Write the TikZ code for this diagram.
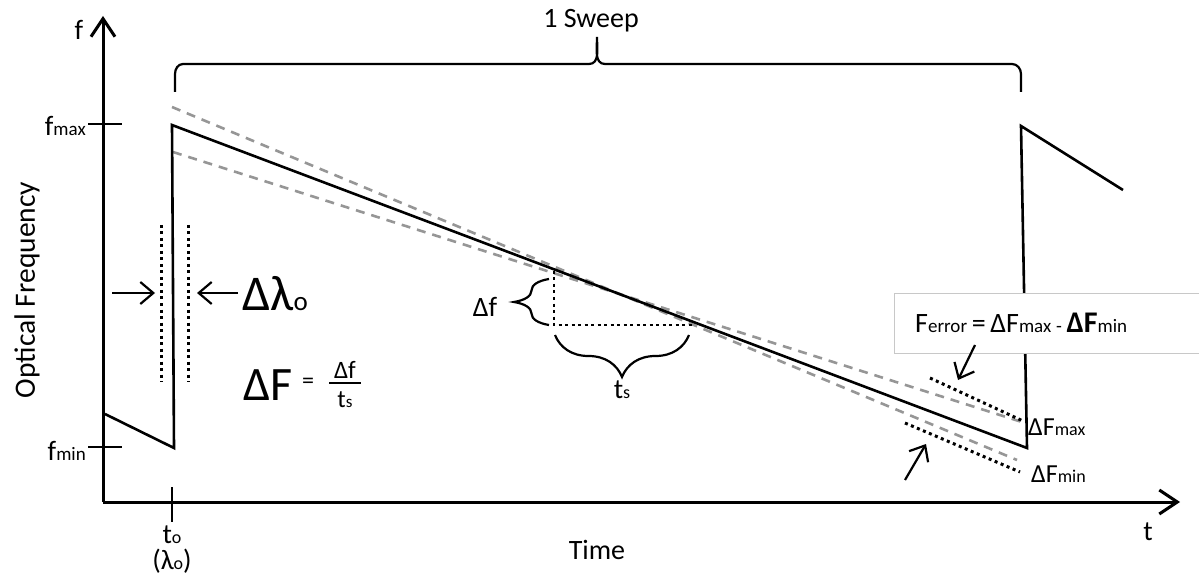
\documentclass[tikz,border=0pt]{standalone}
\usepackage{fontspec}
\setmainfont{Carlito}
\usetikzlibrary{positioning,arrows.meta,decorations.pathreplacing}
\definecolor{GuideGray}{RGB}{150,150,150}
\definecolor{FrameGray}{RGB}{200,200,200}
\newcommand{\fsz}[1]{\fontsize{#1}{#1}\selectfont}
\newcommand{\lowtxt}[2][19]{{\fsz{#1}#2}}
\tikzset{
  axisline/.style={-{Straight Barb[length=18pt,width=24pt]},line width=3pt},
  barb/.style={-{Straight Barb[length=13pt,width=22pt]},line width=2.2pt},
  tick/.style={line width=2.8pt},
  sawline/.style={line width=2.6pt},
  guideline/.style={line width=2.6pt,draw=GuideGray,dash pattern=on 9pt off 7pt},
  dotline/.style={line width=3pt,dash pattern=on 3pt off 3.5pt},
  bracket/.style={line width=2.2pt,decorate,decoration={brace,amplitude=#1}},
  errframe/.style={draw=FrameGray,fill=white,line width=1.4pt,inner sep=0pt},
  label/.style={inner sep=0pt,font=\fsz{28}}
}

\begin{document}
\begin{tikzpicture}[x=1pt,y=-1pt]
  \useasboundingbox (0,0) rectangle (1199,577);
  % axes
  \coordinate (orig) at (103,502);
  \coordinate (ytop) at (103,16);
  \coordinate (xend) at (1180,502);
  \draw[axisline] (orig) -- (ytop);
  \draw[axisline] (orig) -- (xend);
  \draw[tick] (88,124) -- (122,124);
  \draw[tick] (88,447) -- (122,447);
  \draw[tick] (172,487) -- (172,522);
  \node[label] (flab) at (79,30) {f};
  \node[label,anchor=base east] (fmax) at (86,136) {f\lowtxt{max}};
  \node[label,anchor=base east] (fmin) at (86,460) {f\lowtxt{min}};
  \node[label,anchor=base] (tzero) at (172,543) {t\lowtxt[18]{o}};
  \node[label,anchor=base] (lzero) at (172,569) {(λ\lowtxt[18]{o})};
  \node[label] (time) at (597,550) {Time};
  \node[label,anchor=base] (tlab) at (1148,540) {t};
  \node[label,font=\fsz{29.5},rotate=90] (optfreq) at (27,290) {Optical Frequency};

  % sweep bracket
  \draw[line width=2.2pt] (175,92) -- (175,74) to[out=90,in=180] (183,64) -- (589,64)
    to[out=0,in=-90] (597,37) to[out=-90,in=180] (605,64) -- (1012,64)
    to[out=0,in=90] (1021,74) -- (1021,92);
  \node[label,anchor=base] (sweep) at (591,28) {1 Sweep};

  % fitted slopes
  \draw[guideline] (172,107) -- (1017,460);
  \draw[guideline] (173,152) -- (1025,423);
  % sawtooth
  \draw[sawline] (105,414) -- (174,448) -- (172,125) -- (1027,448) -- (1021,126) -- (1123,190);

  % linewidth at start
  \draw[dotline] (161,225) -- (161,382);
  \draw[dotline] (188,225) -- (188,382);
  \node[anchor=base west,inner sep=0pt] (dlam) at (242,310) {\fsz{50}Δλ\lowtxt[27]{o}};
  \coordinate (lamL) at (112,293);
  \coordinate (lamR) at (dlam.west|-lamL);
  \draw[barb] (lamL) -- (155,293);
  \draw[barb] ([xshift=-4pt]lamR) -- (197,293);

  % slope formula
  \node[anchor=base west,inner sep=0pt] (dF) at (243,400) {\fsz{48}ΔF};
  \node[inner sep=0pt] (eq) at (308,383) {\fsz{24}=};
  \node[anchor=base,inner sep=0pt] (fracnum) at (345,378) {\fsz{25}Δf};
  \node[anchor=base,inner sep=0pt] (fracden) at (345,407) {\fsz{25}t\lowtxt[17]{s}};
  \draw[line width=1.8pt] (329,383) -- (361,383);

  % slope triangle
  \coordinate (triA) at (554,271);
  \coordinate (triB) at (554,325);
  \coordinate (triC) at (692,325);
  \draw[dotline,line width=2.6pt] (triA) -- (triB) -- (triC);
  \draw[bracket=35pt] (549,325) -- (549,279);
  \draw[bracket=42pt] (689,335) -- (555,335);
  \node[label] (dflab) at (485,307) {Δf};
  \node[label,anchor=base] (tslab) at (622,398) {t\lowtxt[18]{s}};

  % error markers
  \coordinate (maxA) at (930,378);
  \coordinate (maxB) at (1023,421);
  \coordinate (minA) at (905,423);
  \coordinate (minB) at (1020,472);
  \draw[dotline] (maxA) -- (maxB);
  \draw[dotline] (minA) -- (minB);
  \node[anchor=base west,inner sep=0pt] (dFmax) at (1028,435) {\fsz{26}ΔF\lowtxt[18]{max}};
  \node[anchor=base west,inner sep=0pt] (dFmin) at (1031,482) {\fsz{26}ΔF\lowtxt[18]{min}};
  \node[errframe,anchor=north west,minimum width=330pt,minimum height=60pt] (frame) at (894,293) {};
  \node[anchor=base west,inner sep=0pt] (ferr) at (915,332)
    {\fsz{28}F\lowtxt{error}\,=\,ΔF\lowtxt{max}\,\lowtxt{-}\,{\fsz{30}\bfseries ΔF}\lowtxt{min}};
  \coordinate (arrA) at (975,345);
  \coordinate (arrB) at (905,480);
  \draw[barb] (arrA) -- (958,380);
  \draw[barb] (arrB) -- (926,444);
\end{tikzpicture}
\end{document}
